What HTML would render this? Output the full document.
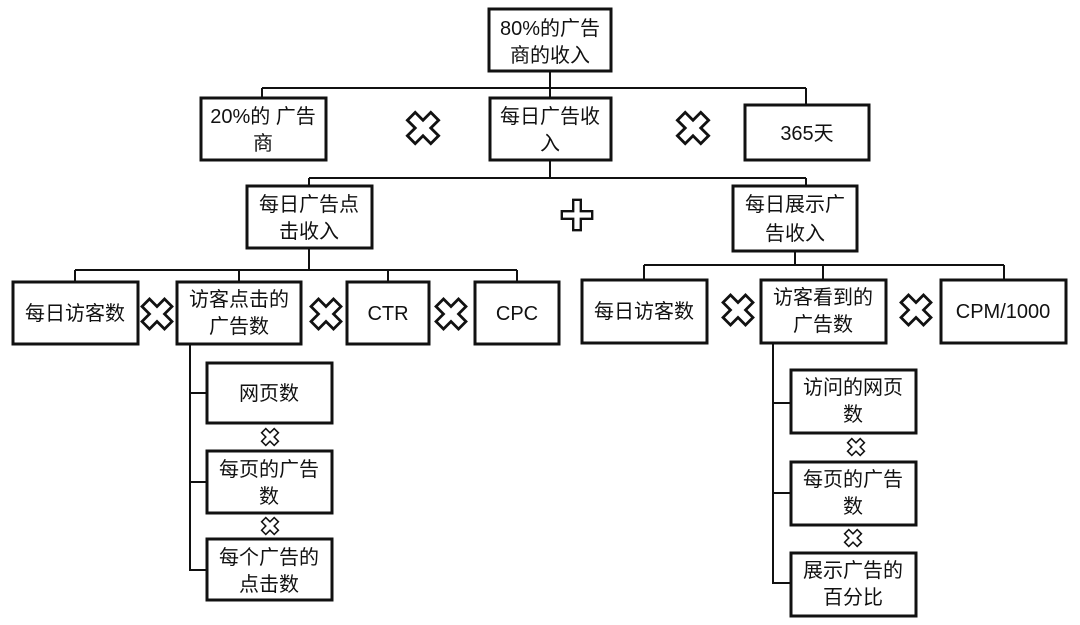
<!DOCTYPE html>
<html><head><meta charset="utf-8"><style>
body{margin:0;background:#fff}
svg text{font-family:"Liberation Sans","Noto Sans CJK SC",sans-serif;font-size:20px;fill:#111;text-anchor:middle}
</style></head><body>
<svg width="1080" height="620" viewBox="0 0 1080 620" xmlns="http://www.w3.org/2000/svg">
<defs>
<path id="x" d="M-12,-6 L-6,-12 L0,-6 L6,-12 L12,-6 L6,0 L12,6 L6,12 L0,6 L-6,12 L-12,6 L-6,0 Z" fill="#fff" stroke="#111" stroke-width="2.2" stroke-linejoin="miter"/>
<path id="p" d="M-4,-16 L4,-16 L4,-4 L16,-4 L16,4 L4,4 L4,16 L-4,16 L-4,4 L-16,4 L-16,-4 L-4,-4 Z" fill="#fff" stroke="#111" stroke-width="2.5"/>
</defs>
<g fill="none" stroke="#111" stroke-width="2">
<path d="M550,72 V88 M262,88 H806 M262,88 V98 M550,88 V98 M806,88 V105"/>
<path d="M550,160 V178 M309,178 H806 M309,178 V186 M806,178 V186"/>
<path d="M309,248 V270 M75,270 H517 M75,270 V282 M239,270 V282 M388,270 V282 M517,270 V282"/>
<path d="M795,252 V265 M644,265 H1004 M644,265 V280 M823,265 V280 M1004,265 V280"/>
<path d="M190,343 V570 H207 M190,393 H207 M190,482 H207"/>
<path d="M773,343 V583 H791 M773,403 H791 M773,493 H791"/>
</g>
<g fill="#fff" stroke="#111" stroke-width="3">
<rect x="489" y="9" width="122" height="62"/>
<rect x="201" y="98" width="125" height="62"/>
<rect x="490" y="98" width="121" height="62"/>
<rect x="745" y="105" width="124" height="55"/>
<rect x="247" y="186" width="125" height="62"/>
<rect x="733" y="186" width="124" height="65"/>
<rect x="13" y="282" width="125" height="62"/>
<rect x="177" y="282" width="124" height="62"/>
<rect x="347" y="282" width="82" height="62"/>
<rect x="475" y="282" width="84" height="62"/>
<rect x="582" y="280" width="125" height="63"/>
<rect x="761" y="280" width="125" height="63"/>
<rect x="941" y="280" width="125" height="63"/>
<rect x="207" y="363" width="125" height="60"/>
<rect x="207" y="451" width="125" height="62"/>
<rect x="207" y="539" width="125" height="61"/>
<rect x="791" y="370" width="125" height="63"/>
<rect x="791" y="462" width="125" height="63"/>
<rect x="791" y="553" width="125" height="63"/>
</g>
<text x="550" y="35">80%的广告</text><text x="550" y="62">商的收入</text>
<text x="263" y="123">20%的 广告</text><text x="263" y="150">商</text>
<text x="550" y="123">每日广告收</text><text x="550" y="150">入</text>
<text x="807" y="140">365天</text>
<text x="309" y="211">每日广告点</text><text x="309" y="238">击收入</text>
<text x="795" y="211">每日展示广</text><text x="795" y="240">告收入</text>
<text x="75" y="320">每日访客数</text>
<text x="239" y="306">访客点击的</text><text x="239" y="333">广告数</text>
<text x="388" y="320">CTR</text>
<text x="517" y="320">CPC</text>
<text x="644" y="318">每日访客数</text>
<text x="823" y="304">访客看到的</text><text x="823" y="331">广告数</text>
<text x="1003" y="318">CPM/1000</text>
<text x="269" y="400">网页数</text>
<text x="269" y="476">每页的广告</text><text x="269" y="503">数</text>
<text x="269" y="564">每个广告的</text><text x="269" y="591">点击数</text>
<text x="853" y="394">访问的网页</text><text x="853" y="421">数</text>
<text x="853" y="486">每页的广告</text><text x="853" y="513">数</text>
<text x="853" y="577">展示广告的</text><text x="853" y="604">百分比</text>
<use href="#x" transform="translate(423,128) scale(1.3)"/>
<use href="#x" transform="translate(693,128) scale(1.3)"/>
<use href="#p" transform="translate(577,215) scale(0.95)"/>
<use href="#x" transform="translate(157,314) scale(1.25)"/>
<use href="#x" transform="translate(326,314) scale(1.25)"/>
<use href="#x" transform="translate(451,314) scale(1.25)"/>
<use href="#x" transform="translate(738,310) scale(1.25)"/>
<use href="#x" transform="translate(916,310) scale(1.25)"/>
<use href="#x" transform="translate(270,437) scale(0.7)"/>
<use href="#x" transform="translate(270,526) scale(0.7)"/>
<use href="#x" transform="translate(856,447) scale(0.7)"/>
<use href="#x" transform="translate(853,538) scale(0.7)"/>
</svg>
</body></html>
